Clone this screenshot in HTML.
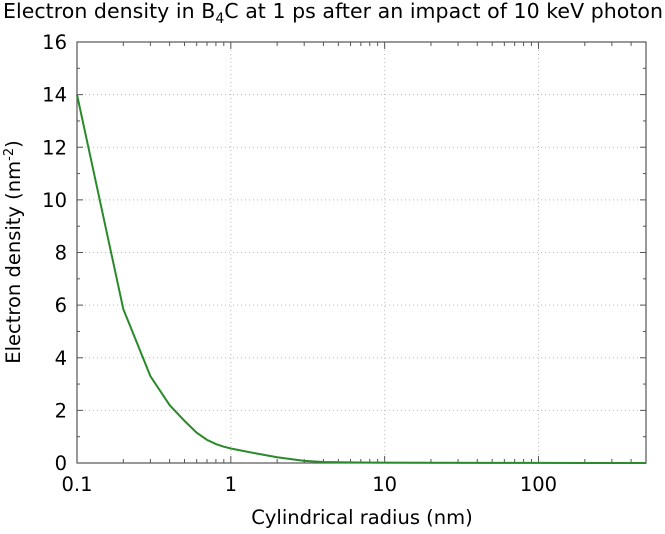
<!DOCTYPE html>
<html><head><meta charset="utf-8"><style>
body{margin:0;background:#fff}
text{font-family:"DejaVu Sans","Liberation Sans",sans-serif;fill:#000}
</style></head><body>
<svg width="665" height="529">
<g id="grid"></g>
<g id="axes"></g>
<polyline id="line" fill="none" stroke="#2a8a2a" stroke-width="2"/>
<text x="333" y="18" font-size="20.5" text-anchor="middle" textLength="660">Electron density in B<tspan font-size="14" dy="5">4</tspan><tspan dy="-5">C at 1 ps after an impact of 10 keV photon</tspan></text>
<text x="362" y="524" font-size="19.5" text-anchor="middle">Cylindrical radius (nm)</text>
<text transform="translate(20,252) rotate(-90)" font-size="19.5" text-anchor="middle">Electron density (nm<tspan font-size="13" dy="-7">-2</tspan><tspan dy="7">)</tspan></text>
</svg>
<script>
const radii=[0.1,0.2,0.3,0.4,0.5,0.6,0.7,0.8,0.9,1,1.5,2,3,4,5,7,10,20,50,100,200,500];
const density=[14,5.85,3.3,2.2,1.6,1.15,0.88,0.72,0.62,0.55,0.35,0.22,0.08,0.04,0.03,0.02,0.015,0.01,0.005,0.003,0.002,0.001];
const xTicks=[0.1,1,10,100];
const xTickLabels=["0.1","1","10","100"];
const yTicks=[0,2,4,6,8,10,12,14,16];
const L=77,R=646,T=42,B=463,xmin=0.1,xmax=500,ymax=16;
const NS="http://www.w3.org/2000/svg";
const X=v=>L+(Math.log10(v)-Math.log10(xmin))/(Math.log10(xmax)-Math.log10(xmin))*(R-L);
const Y=v=>B-v/ymax*(B-T);
const grid=document.getElementById('grid'),axes=document.getElementById('axes');
function mk(tag,attrs,parent){const e=document.createElementNS(NS,tag);for(const k in attrs)e.setAttribute(k,attrs[k]);parent.appendChild(e);return e;}
yTicks.forEach(v=>{
 const y=Y(v);
 if(v>0&&v<ymax){const g=mk('line',{x1:L,x2:R,y1:y,y2:y,stroke:'#bbb','stroke-dasharray':'1,3'},grid);
 
 }
 mk('line',{x1:L,x2:L+6,y1:y,y2:y,stroke:'#555'},axes);
 mk('line',{x1:R,x2:R-6,y1:y,y2:y,stroke:'#555'},axes);
 const t=mk('text',{x:L-10,y:y+7,'font-size':19.5,'text-anchor':'end'},axes);t.textContent=v;
 
 
});
xTicks.forEach((v,i)=>{
 const x=X(v);
 if(i>0){const g=mk('line',{x1:x,x2:x,y1:T,y2:B,stroke:'#bbb','stroke-dasharray':'1,3'},grid);
 
 }
 mk('line',{x1:x,x2:x,y1:B,y2:B-7,stroke:'#555'},axes);
 mk('line',{x1:x,x2:x,y1:T,y2:T+7,stroke:'#555'},axes);
 const t=mk('text',{x:x,y:B+28,'font-size':19.5,'text-anchor':'middle'},axes);t.textContent=xTickLabels[i];
 
 
 for(let m=2;m<10;m++){const mv=v*m;if(mv>xmax)break;const mx=X(mv);
  mk('line',{x1:mx,x2:mx,y1:B,y2:B-4,stroke:'#555'},axes);
  mk('line',{x1:mx,x2:mx,y1:T,y2:T+4,stroke:'#555'},axes);}
});
for(let v=1;v<ymax;v+=2){mk('line',{x1:L,x2:L+3,y1:Y(v),y2:Y(v),stroke:'#555'},axes);mk('line',{x1:R,x2:R-3,y1:Y(v),y2:Y(v),stroke:'#555'},axes);}
mk('rect',{x:L,y:T,width:R-L,height:B-T,fill:'none',stroke:'#555','stroke-width':1.2},axes);
document.getElementById('line').setAttribute('points',radii.map((r,i)=>X(r)+','+Y(density[i])).join(' '));
</script>
</body></html>
